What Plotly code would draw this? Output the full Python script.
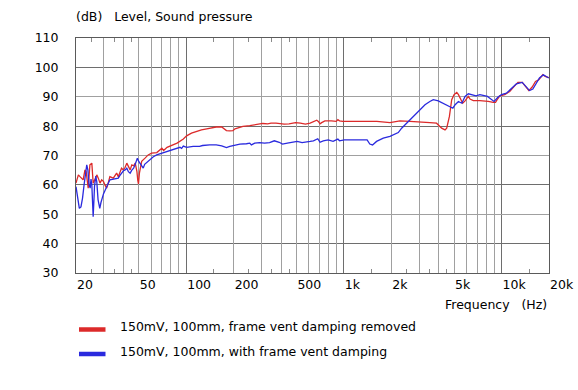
import numpy as np
import plotly.graph_objects as go

# ---------------- data ----------------
freq_red = [20, 20.7, 21.2, 21.7, 22.2, 22.8, 23.2, 23.9, 24.5, 25.2, 25.7, 26.3, 27.1, 27.7, 28.4,
            29.1, 29.9, 30.5, 31.3, 32.0, 32.8, 34.5, 35.3, 36.2, 37.1, 38.0, 38.9, 39.9, 41.0, 42.0,
            43.0, 44.1, 45.2, 46.4, 47.5, 48.7, 49.3, 49.8, 50.5, 51.3, 52.2, 54.8, 57.4, 60.3, 65.1,
            70.1, 71.9, 75.6, 79.3, 87.5, 95.9, 100.6, 108, 116, 125, 135, 141, 155, 168, 172, 180,
            189, 198, 204, 213, 229, 253, 272, 292, 306, 329, 345, 371, 389, 418, 449, 471, 494, 530,
            556, 570, 611, 641, 673, 689, 706, 723, 758, 833, 895, 916, 938, 984, 1057, 1217, 1338,
            1472, 1618, 1960, 2267, 2625, 3040, 3510, 3870, 4030, 4170, 4380, 4490, 4670, 4830, 5000,
            5200, 5330, 5510, 5670, 5870, 6010, 6160, 6310, 6620, 7290, 7840, 8230, 8860, 9160, 9380,
            9760, 10490, 11270, 12110, 12710, 13530, 14200, 14900, 15640, 16420, 17230, 18270, 18900,
            19650, 20000]
db_red = [60.6, 63.4, 62.8, 62.3, 61.7, 65.1, 64.5, 58.9, 66.8, 67.4, 60.6, 61.7, 63.4, 62.3, 60.6,
          61.7, 61.1, 60.0, 58.9, 60.6, 62.8, 62.3, 63.0, 64.0, 62.8, 64.5, 65.7, 65.1, 66.0, 67.4,
          66.2, 65.1, 66.8, 66.5, 67.4, 64.5, 61.5, 60.3, 64.0, 66.5, 68.0, 69.1, 70.2, 70.8, 71.0,
          72.5, 71.7, 72.8, 73.3, 74.2, 75.6, 76.7, 77.6, 78.2, 78.7, 79.1, 79.3, 79.7, 79.7, 79.3, 78.5,
          78.4, 78.5, 79.1, 79.5, 79.9, 80.2, 80.5, 80.7, 80.9, 80.8, 81.0, 81.0, 80.8, 80.7, 80.8, 81.0,
          81.2, 81.0, 80.8, 80.7, 81.0, 81.4, 82.0, 81.6, 80.8, 81.2, 81.8, 81.8, 81.6, 82.2, 81.8, 81.6,
          81.6, 81.6, 81.4, 81.4, 81.6, 81.2, 81.8, 81.6, 81.5, 81.2, 81.0, 80.1, 79.3, 78.7, 79.3, 83.3,
          89.0, 90.7, 91.5, 90.7, 89.0, 87.8, 88.6, 89.5, 90.1, 89.2, 88.7, 88.7, 88.6, 88.4, 88.1, 88.1,
          89.0, 90.3, 90.7, 91.8, 93.7, 94.9, 94.9, 93.5, 92.1, 93.3, 95.2, 95.8, 97.5, 96.9, 96.7, 96.5]

freq_blue = [20, 20.5, 21.0, 21.5, 22.0, 22.5, 23.0, 23.4, 23.8, 24.2, 24.6, 24.9, 25.2, 25.5, 25.7,
             26.0, 26.2, 26.7, 27.1, 27.6, 28.3, 28.8, 29.3, 29.9, 30.5, 31.2, 32.0, 32.8, 34.5, 36.0,
             37.1, 38.0, 38.9, 40.0, 41.0, 42.0, 43.0, 44.1, 45.2, 46.4, 47.5, 49.0, 50.0, 50.9, 52.2,
             53.4, 54.5, 55.5, 57.4, 58.9, 61.9, 65.0, 68.5, 75.6, 83.0, 91.3, 93.5, 95.9, 100.6, 110.7,
             121.5, 127, 141, 155, 168, 180, 189, 204, 219, 241, 253, 259, 272, 292, 314, 338, 362, 389,
             408, 438, 471, 506, 543, 570, 611, 641, 683, 706, 740, 795, 854, 916, 938, 1008, 1108, 1217,
             1308, 1404, 1460, 1520, 1612, 1778, 1960, 2058, 2214, 2325, 2500, 2625, 2820, 3040, 3270,
             3510, 3690, 3970, 4280, 4670, 4910, 5080, 5330, 5600, 5870, 6160, 6470, 6890, 7290, 7840,
             8140, 8430, 8970, 9510, 9990, 10740, 11540, 12420, 13530, 14350, 15060, 15800, 16580,
             17400, 18440, 19170, 19900]
db_blue = [59.4, 56.0, 52.0, 52.5, 55.5, 60.0, 64.5, 66.8, 65.0, 60.0, 58.9, 62.0, 60.0, 53.0, 49.2,
           55.0, 59.4, 63.0, 61.0, 55.0, 52.0, 54.0, 55.5, 57.0, 58.0, 59.4, 60.5, 61.7, 61.9, 62.2,
           62.3, 63.2, 64.0, 64.8, 65.1, 65.7, 64.5, 64.0, 65.0, 65.7, 67.0, 69.1, 68.0, 67.4, 66.5,
           65.7, 67.0, 67.4, 68.0, 68.5, 69.6, 70.2, 70.6, 71.4, 71.9, 72.8, 72.4, 73.2, 72.8, 73.1,
           73.1, 73.4, 73.6, 73.6, 73.3, 72.7, 73.1, 73.4, 73.9, 74.0, 74.2, 73.6, 74.2, 74.4, 74.2, 74.4,
           75.0, 74.5, 73.9, 74.2, 74.5, 74.8, 74.4, 74.5, 74.8, 75.0, 75.7, 74.5, 75.0, 75.3, 74.8, 75.6,
           75.0, 75.3, 75.3, 75.5, 75.3, 75.3, 73.9, 73.6, 74.8, 75.9, 76.5, 77.0, 77.8, 79.3, 81.0, 82.2,
           83.9, 85.8, 87.3, 88.4, 89.0, 88.6, 87.8, 86.9, 86.1, 87.3, 88.4, 87.8, 90.1, 91.0, 90.7, 90.3,
           90.7, 90.3, 90.1, 89.5, 88.4, 89.9, 90.7, 91.2, 92.9, 94.4, 94.9, 93.5, 92.1, 92.6, 94.6, 96.4,
           97.5, 96.9, 96.4]

series_names = ["150mV, 100mm, frame vent damping removed",
                "150mV, 100mm, with frame vent damping"]
x_tick_vals = [20, 50, 100, 200, 500, 1000, 2000, 5000, 10000, 20000]
x_tick_text = ["20", "50", "100", "200", "500", "1k", "2k", "5k", "10k", "20k"]
x_light_grid = [30, 40, 50, 60, 70, 80, 90, 200, 300, 400, 500, 600, 700, 800, 900,
                2000, 3000, 4000, 5000, 6000, 7000, 8000, 9000]
x_dark_grid = [100, 1000, 10000]
x_minor_ticks = [25, 35, 45, 150, 250, 350, 450, 1500, 2500, 3500, 4500, 15000]
y_tick_vals = [30, 40, 50, 60, 70, 80, 90, 100, 110]
y_light_grid = [50, 70, 90]
y_dark_grid = [40, 60, 80, 100]

RED = "#dc2a2a"
BLUE = "#2a2ade"
FONT = "DejaVu Sans"
FS = 12.5
LIGHT = "#a0a0a0"
DARK = "#6e6e6e"
BORDER = "#5a5a5a"
CLEAR = "rgba(0,0,0,0)"

fig = go.Figure()
fig.add_trace(go.Scatter(x=freq_red, y=db_red, mode="lines", name=series_names[0],
                         line=dict(color=RED, width=1.3), showlegend=False,
                         xaxis="x", yaxis="y", hoverinfo="skip"))
fig.add_trace(go.Scatter(x=freq_blue, y=db_blue, mode="lines", name=series_names[1],
                         line=dict(color=BLUE, width=1.3), showlegend=False,
                         xaxis="x2", yaxis="y2", hoverinfo="skip"))

xr = [np.log10(20), np.log10(20000)]
fig.update_layout(
    template="none",
    width=578, height=390,
    margin=dict(l=76, r=29, t=38, b=117, autoexpand=False),
    paper_bgcolor="white", plot_bgcolor="white",
    font=dict(family=FONT, size=FS, color="#000"),
    # labels, border, small inside ticks
    xaxis=dict(type="log", range=xr, tickvals=x_tick_vals, ticktext=x_tick_text,
               ticks="outside", ticklen=8, tickcolor=CLEAR, automargin=False,
               ticklabelposition="outside right",
               showgrid=False, zeroline=False,
               showline=True, linecolor=BORDER, linewidth=1, mirror="ticks",
               tickfont=dict(family=FONT, size=FS, color="#000"),
               minor=dict(tickvals=x_minor_ticks, ticks="inside", ticklen=4,
                          tickcolor="#8a8a8a", tickwidth=1, showgrid=False)),
    # grid lines
    xaxis2=dict(type="log", range=xr, overlaying="x", anchor="y2", side="bottom",
                tickvals=x_light_grid, showticklabels=False, ticks="", automargin=False,
                showgrid=True, gridcolor=LIGHT, gridwidth=1, zeroline=False, showline=False,
                minor=dict(tickvals=x_dark_grid, ticks="", showgrid=True,
                           gridcolor=DARK, gridwidth=1)),
    yaxis=dict(range=[30, 110], tickvals=y_tick_vals, ticks="outside", ticklen=14,
               tickcolor=CLEAR, showgrid=False, zeroline=False, showline=True, automargin=False,
               linecolor=BORDER, linewidth=1, mirror="ticks",
               tickfont=dict(family=FONT, size=FS, color="#000")),
    yaxis2=dict(range=[30, 110], overlaying="y", anchor="x2", side="left",
                tickvals=y_light_grid, showticklabels=False, ticks="", automargin=False,
                showgrid=True, gridcolor=LIGHT, gridwidth=1, zeroline=False, showline=False,
                minor=dict(tickvals=y_dark_grid, ticks="", showgrid=True,
                           gridcolor=DARK, gridwidth=1)),
)

# titles
fig.add_annotation(text="(dB)\u00a0\u00a0 Level, Sound pressure", xref="paper", yref="paper",
                   x=0, y=1, xanchor="left", yanchor="middle", xshift=-2, yshift=21.5,
                   showarrow=False, font=dict(family=FONT, size=FS, color="#000"))
fig.add_annotation(text="Frequency\u00a0\u00a0 (Hz)", xref="paper", yref="paper",
                   x=1, y=0, xanchor="right", yanchor="middle", yshift=-31,
                   showarrow=False, font=dict(family=FONT, size=FS, color="#000"))

# legend (manual)
leg_colors = [RED, BLUE]
for i, (nm, col) in enumerate(zip(series_names, leg_colors)):
    ypix = 329.5 + 24.5 * i  # px below top of page
    ypaper = -(ypix - 273) / 235.0
    fig.add_shape(type="line", xref="paper", yref="paper",
                  x0=(79 - 76) / 473.0, x1=(105.5 - 76) / 473.0, y0=ypaper, y1=ypaper,
                  line=dict(color=col, width=4.5))
    fig.add_annotation(text=nm, xref="paper", yref="paper", x=0, y=0,
                       xanchor="left", yanchor="middle", xshift=42,
                       yshift=-(326.5 + 25 * i - 273), showarrow=False,
                       font=dict(family=FONT, size=FS, color="#000"))

# remove the default 8px page margin so the figure fills the window exactly
fig.write_html("out.html", config={"displayModeBar": False, "staticPlot": True},
               post_script="document.body.style.margin='0';document.body.style.overflow='hidden';")
